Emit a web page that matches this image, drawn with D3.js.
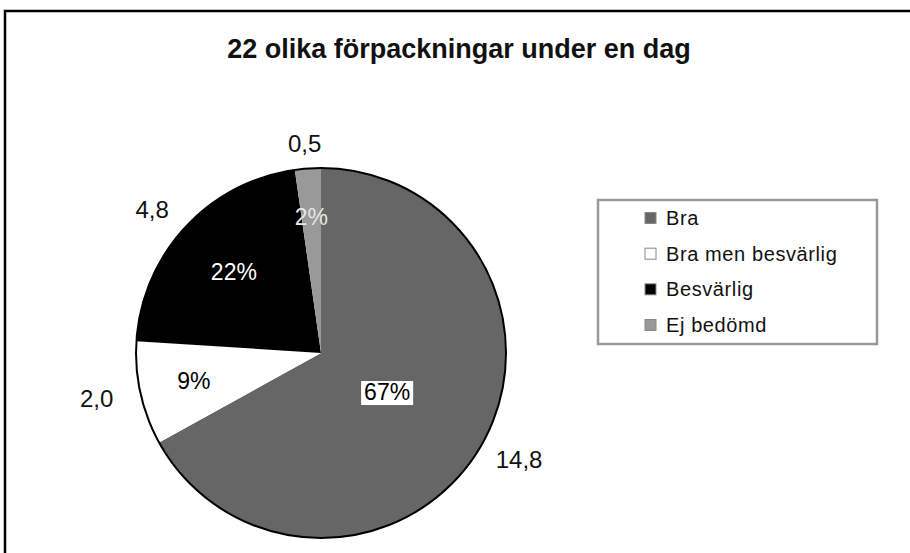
<!DOCTYPE html>
<html>
<head>
<meta charset="utf-8">
<script src="https://cdn.jsdelivr.net/npm/d3@7"></script>
<style>
  body { margin: 0; background: #fff; }
  text { font-family: "Liberation Sans", Arial, sans-serif; }
</style>
</head>
<body>
<div id="chart"></div>
<script>
// data
const categories = ["Bra", "Bra men besvärlig", "Besvärlig", "Ej bedömd"];
const values = [14.8, 2.0, 4.8, 0.5];
const colors = ["#666666", "#ffffff", "#000000", "#999999"];
const pctColors = ["#000", "#000", "#fff", "#e6e6e6"];
const title = "22 olika förpackningar under en dag";

const w = 910;
const h = 553;
const cx = 321, cy = 353, r = 185;

const svg = d3.select("#chart").append("svg")
    .attr("width", w)
    .attr("height", h);

// outer frame (runs off the right / bottom edge like the source)
svg.append("rect")
    .attr("x", 5).attr("y", 11)
    .attr("width", 1000).attr("height", 700)
    .attr("fill", "none")
    .attr("stroke", "#000")
    .attr("stroke-width", 2.5);

svg.append("text")
    .attr("x", 459).attr("y", 58)
    .attr("text-anchor", "middle")
    .attr("font-size", "27px")
    .attr("font-weight", "bold")
    .attr("fill", "#111")
    .text(title);

const total = d3.sum(values);
const sv = d3.formatLocale({decimal: ",", thousands: " ", grouping: [3], currency: ["", " kr"]});
const fmtVal = sv.format(".1f");
const fmtPct = d3.format(".0%");

const pie = d3.pie().sort(null).value(d => d)(values);
const arc = d3.arc().innerRadius(0).outerRadius(r);

const g = svg.append("g").attr("transform", "translate(" + cx + "," + cy + ")");

g.selectAll("path.slice").data(pie).enter().append("path")
    .attr("class", "slice")
    .attr("d", arc)
    .attr("fill", (d, i) => colors[i]);

// outline only round the rim
g.append("circle")
    .attr("r", r)
    .attr("fill", "none")
    .attr("stroke", "#000")
    .attr("stroke-width", 2);

const mid = d => (d.startAngle + d.endAngle) / 2;

// percentage labels inside
pie.forEach((d, i) => {
    const p = values[i] / total;
    const lr = r * (0.75 - 0.5 * p);
    const a = mid(d);
    const x = lr * Math.sin(a), y = -lr * Math.cos(a);
    const t = g.append("text")
        .attr("x", x).attr("y", y + 8)
        .attr("text-anchor", "middle")
        .attr("font-size", "23px")
        .attr("fill", pctColors[i])
        .text(fmtPct(p));
    if (i === 0) {
        const bb = t.node().getBBox();
        g.insert("rect", "text")
            .attr("x", bb.x - 3).attr("y", bb.y + 2)
            .attr("width", bb.width + 6).attr("height", bb.height - 2)
            .attr("fill", "#fff");
    }
});

// value labels outside
pie.forEach((d, i) => {
    const a = mid(d);
    const x = (r + 45) * Math.sin(a), y = -(r + 25) * Math.cos(a);
    g.append("text")
        .attr("x", x).attr("y", y + 8)
        .attr("text-anchor", "middle")
        .attr("font-size", "24px")
        .attr("fill", "#111")
        .text(fmtVal(values[i]));
});

// legend
const lg = svg.append("g").attr("transform", "translate(598,200)");
lg.append("rect")
    .attr("width", 279).attr("height", 144)
    .attr("fill", "#fff")
    .attr("stroke", "#999")
    .attr("stroke-width", 2.5);

const ly = d3.scalePoint().domain(categories).range([18, 125]);

lg.selectAll("rect.sw").data(categories).enter().append("rect")
    .attr("class", "sw")
    .attr("x", 47).attr("y", c => ly(c) - 5.5)
    .attr("width", 11).attr("height", 11)
    .attr("fill", (c, i) => colors[i])
    .attr("stroke", "#888")
    .attr("stroke-width", 1);

lg.selectAll("text").data(categories).enter().append("text")
    .attr("x", 68).attr("y", c => ly(c) + 7)
    .attr("font-size", "20px")
    .attr("letter-spacing", "0.6px")
    .attr("fill", "#111")
    .text(c => c);
</script>
</body>
</html>
